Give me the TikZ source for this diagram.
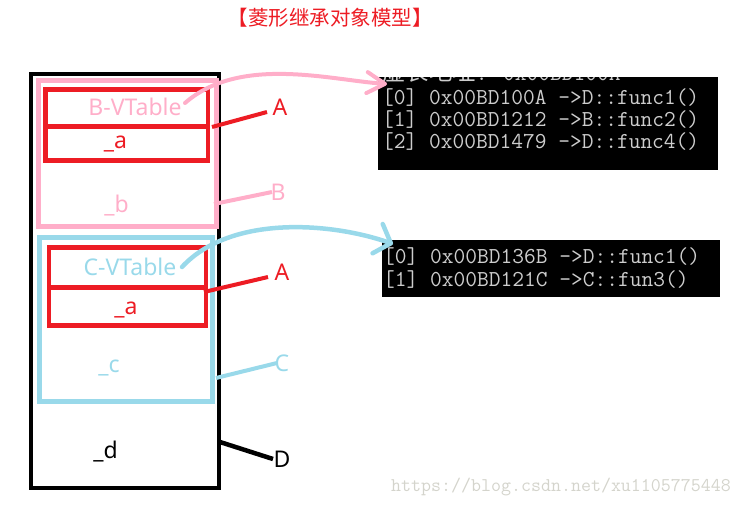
\documentclass[tikz,border=0pt]{standalone}
\usepackage{fontspec}
\setmainfont{Noto Sans}
\newfontfamily\cjk{Noto Sans CJK SC}
\usetikzlibrary{arrows.meta}
\definecolor{mspink}{RGB}{255,174,201}
\definecolor{mscyan}{RGB}{153,217,234}
\definecolor{msred}{RGB}{237,28,36}
\definecolor{contxt}{RGB}{205,205,205}
\definecolor{wmark}{RGB}{212,212,204}
\begin{document}
\begin{tikzpicture}[x=1pt,y=-1pt,
  box/.style={draw, inner sep=0pt, outer sep=0pt},
  lbl/.style={font=\fontsize{23}{27}\selectfont, inner sep=0pt, anchor=base},
  con/.style={line width=4pt},
  ctext/.style={font=\ttfamily\fontsize{22.8}{24}\selectfont, text=contxt, anchor=base west, inner sep=0pt},
  consolebox/.style={fill=black, inner sep=0pt, outer sep=0pt, anchor=north west}]
\useasboundingbox (0,0) rectangle (744,506);

% title
\node[font=\cjk\fontsize{20.5}{24}\selectfont, text=msred, inner sep=0pt] (title) at (330,18) {【菱形继承对象模型】};

% object layout
\node[box, draw=black, line width=4.5pt, minimum width=188pt, minimum height=414pt] (objD) at (125,281) {};
\node[box, draw=mspink, line width=5pt, minimum width=177.5pt, minimum height=146pt] (objB) at (127.25,153) {};
\node[box, draw=msred, line width=4.5pt, minimum width=162.5pt, minimum height=71pt] (objA1) at (126.75,125) {};
\draw[msred, line width=4.5pt] (objA1.west |- 0,126.5) -- (objA1.east |- 0,126.5);
\node[box, draw=mscyan, line width=5pt, minimum width=173pt, minimum height=164pt] (objC) at (126,319.5) {};
\node[box, draw=msred, line width=4.5pt, minimum width=157pt, minimum height=78pt] (objA2) at (127.5,286.5) {};
\draw[msred, line width=4.5pt] (objA2.west |- 0,287.5) -- (objA2.east |- 0,287.5);

% texts inside
\node[lbl, text=mspink] (tBV) at (135,115) {B-VTable};
\node[lbl, text=msred] (ta1) at (115.5,148) {\_a};
\node[lbl, text=mspink] (tb) at (116.5,212) {\_b};
\node[lbl, text=mscyan] (tCV) at (130,275) {C-VTable};
\node[lbl, text=msred] (ta2) at (126,314) {\_a};
\node[lbl, text=mscyan] (tc) at (109,372) {\_c};
\node[lbl, text=black] (td) at (105.5,458) {\_d};

% labels
\node[lbl, text=msred] (lA1) at (280,115) {A};
\node[lbl, text=mspink] (lB) at (278,200) {B};
\node[lbl, text=msred] (lA2) at (282,280) {A};
\node[lbl, text=mscyan] (lC) at (282,371) {C};
\node[lbl, text=black] (lD) at (282,467) {D};

% connector end points
\coordinate (a1s) at (212,127); \coordinate (a1e) at (267,112);
\coordinate (bs) at (214,204);  \coordinate (be) at (272,192);
\coordinate (a2s) at (204,292); \coordinate (a2e) at (268,277);
\coordinate (cs) at (216,378);  \coordinate (ce) at (277,363);
\coordinate (ds) at (220,442);  \coordinate (de) at (273,459);
\draw[con, msred] (a1s) -- (a1e);
\draw[con, mspink] (bs) -- (be);
\draw[con, msred] (a2s) -- (a2e);
\draw[con, mscyan] (cs) -- (ce);
\draw[con, black, line width=4.5pt] (ds) -- (de);

% consoles
\node[consolebox, minimum width=340pt, minimum height=93pt] (con1) at (378,77) {};
\begin{scope}
\clip (378,77) rectangle (718,170);
\node[ctext] (hdr) at (382,80) {{\cjk\fontsize{23.4}{24}\selectfont 虚表地址}: 0x00BD100A};
\end{scope}
\node[ctext] (r10) at (382,104) {[0] 0x00BD100A ->D::func1()};
\node[ctext] (r11) at (382,126) {[1] 0x00BD1212 ->B::func2()};
\node[ctext] (r12) at (382,148) {[2] 0x00BD1479 ->D::func4()};

\node[consolebox, minimum width=338pt, minimum height=57pt] (con2) at (382,240) {};
\node[ctext] (r20) at (383,263) {[0] 0x00BD136B ->D::func1()};
\node[ctext] (r21) at (383,286) {[1] 0x00BD121C ->C::fun3()};

% curved arrows to vtables
\coordinate (bvs) at (185,103); \coordinate (bvt) at (387,84);
\coordinate (cvs) at (182,267); \coordinate (cvt) at (393,244);
\draw[line width=4pt, mspink, line cap=round, -{Straight Barb[length=18pt,width=21pt,round]}]
  (bvs) .. controls (240,55) and (330,80) .. (bvt);
\draw[line width=4.5pt, mscyan, line cap=round, -{Straight Barb[length=14pt,width=31pt,round]}]
  (cvs) .. controls (230,215) and (330,222) .. (cvt);

% watermark
\node[font=\ttfamily\fontsize{19.4}{20}\selectfont, text=wmark, anchor=base west, inner sep=0pt] (wm) at (391,491) {https://blog.csdn.net/xu1105775448};
\end{tikzpicture}
\end{document}
